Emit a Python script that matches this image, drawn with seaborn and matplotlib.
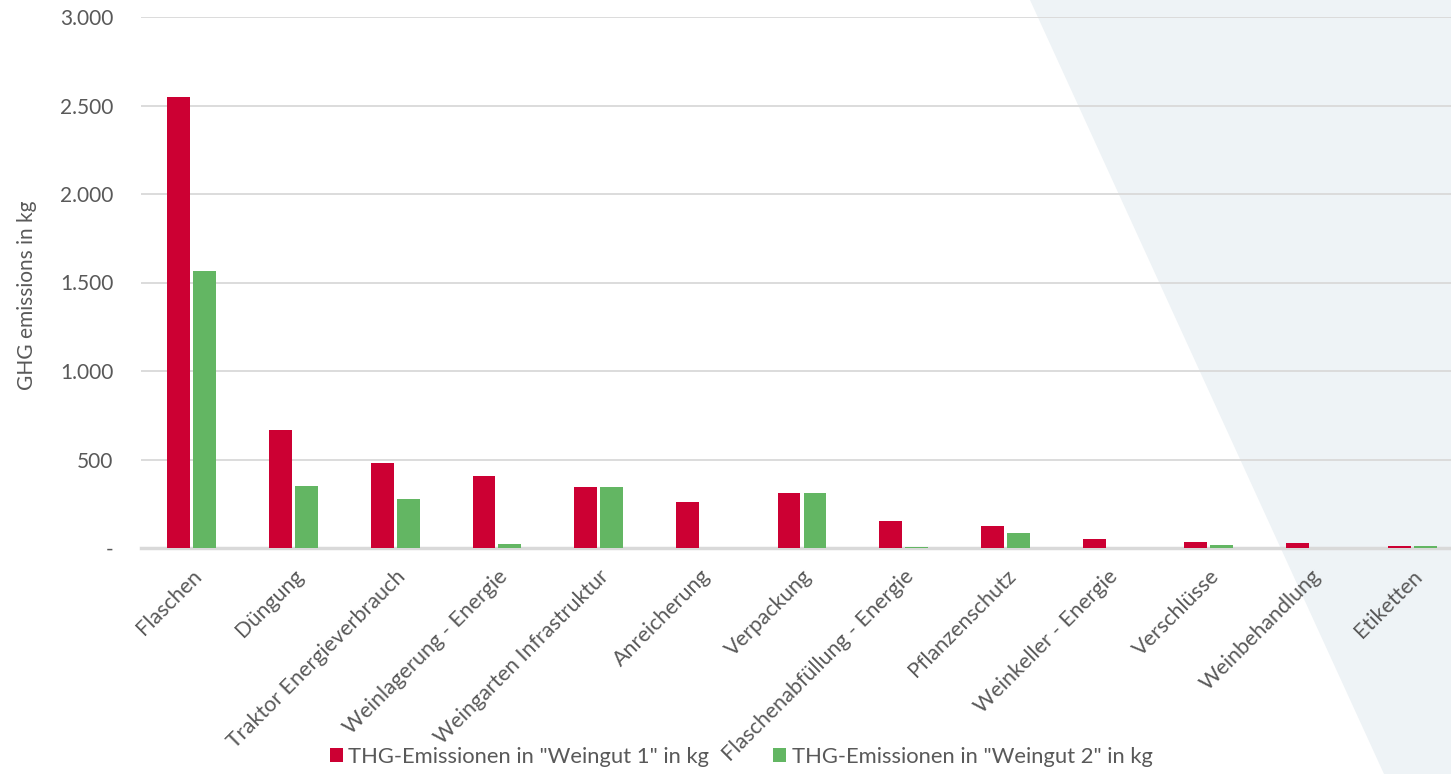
import matplotlib
matplotlib.use("Agg")
import matplotlib.pyplot as plt
import seaborn as sns
import pandas as pd
from matplotlib.patches import Polygon, Patch
from matplotlib.ticker import FuncFormatter, MultipleLocator

categories = ["Flaschen", "Düngung", "Traktor Energieverbrauch", "Weinlagerung - Energie",
              "Weingarten Infrastruktur", "Anreicherung", "Verpackung",
              "Flaschenabfüllung - Energie", "Pflanzenschutz", "Weinkeller - Energie",
              "Verschlüsse", "Weinbehandlung", "Etiketten"]
weingut1 = [2550, 665, 482, 408, 345, 260, 312, 153, 124, 51, 34, 28, 12]
weingut2 = [1565, 352, 277, 23, 345, 0, 312, 8, 85, 0, 15, 0, 12]
series_names = ['THG-Emissionen in "Weingut 1" in kg', 'THG-Emissionen in "Weingut 2" in kg']
colors = ["#CC0033", "#63B663"]

df = pd.DataFrame({
    "category": categories * 2,
    "value": weingut1 + weingut2,
    "series": [series_names[0]] * len(categories) + [series_names[1]] * len(categories),
})

sns.set_style("white")
plt.rcParams['font.family'] = ['Lato', 'DejaVu Sans']
text_color = "#595959"

fig = plt.figure(figsize=(14.51, 7.74), dpi=100)
W, H = 1451, 774

ax = fig.add_axes([141 / W, (H - 548) / H, 1 - 141 / W, (548 - 17) / H])
ax.patch.set_alpha(0)

# background shape (decorative), drawn behind everything
poly = Polygon([(1030 / W, 1.0), (1.02, 1.0), (1.02, -0.02), (1384 / W, 0.0)],
               closed=True, transform=fig.transFigure, facecolor="#EEF3F6",
               edgecolor="none", zorder=-10, clip_on=False)
ax.add_patch(poly)

sns.barplot(data=df, x="category", y="value", hue="series", palette=colors,
            width=0.51, gap=0.12, ax=ax, legend=False, saturation=1)
for bar in ax.patches:
    if bar is not poly:
        bar.set_zorder(3)
        bar.set_linewidth(0)
        if bar.get_height() == 0:
            bar.set_visible(False)

ax.set_ylim(0, 3000)
n = len(categories)
ax.set_xlim(-0.5, n - 0.5 - 12 / 101.7)
ax.yaxis.set_major_locator(MultipleLocator(500))
ax.yaxis.set_major_formatter(FuncFormatter(
    lambda v, p: "-" if v == 0 else f"{int(v):,}".replace(",", ".")))
ax.grid(axis="y", color="#D9D9D9", linewidth=1.3)
ax.set_axisbelow(True)
for s in ["top", "right", "left"]:
    ax.spines[s].set_visible(False)
ax.spines["bottom"].set_color("#D9D9D9")
ax.spines["bottom"].set_linewidth(2.5)
ax.spines["bottom"].set_zorder(2)
ax.tick_params(axis="both", length=0, colors=text_color)
ax.tick_params(axis="y", pad=20, labelsize=15)
ax.tick_params(axis="x", labelsize=15.5, pad=13)
plt.setp(ax.get_xticklabels(), rotation=45, ha="right", rotation_mode="anchor")
ax.set_xlabel("")
ax.set_ylabel("GHG emissions in kg", color=text_color, fontsize=15)
ax.yaxis.set_label_coords((37 - 141) / 1310, 0.476)

handles = [Patch(facecolor=c, edgecolor="none") for c in colors]
fig.legend(handles, series_names, loc="center", ncol=2,
           bbox_to_anchor=(741 / W, (H - 757) / H), frameon=False, fontsize=15.8,
           handlelength=0.6, handleheight=0.6, handletextpad=0.25,
           columnspacing=2.9, labelcolor=text_color)

fig.savefig("out.png", dpi=100)
